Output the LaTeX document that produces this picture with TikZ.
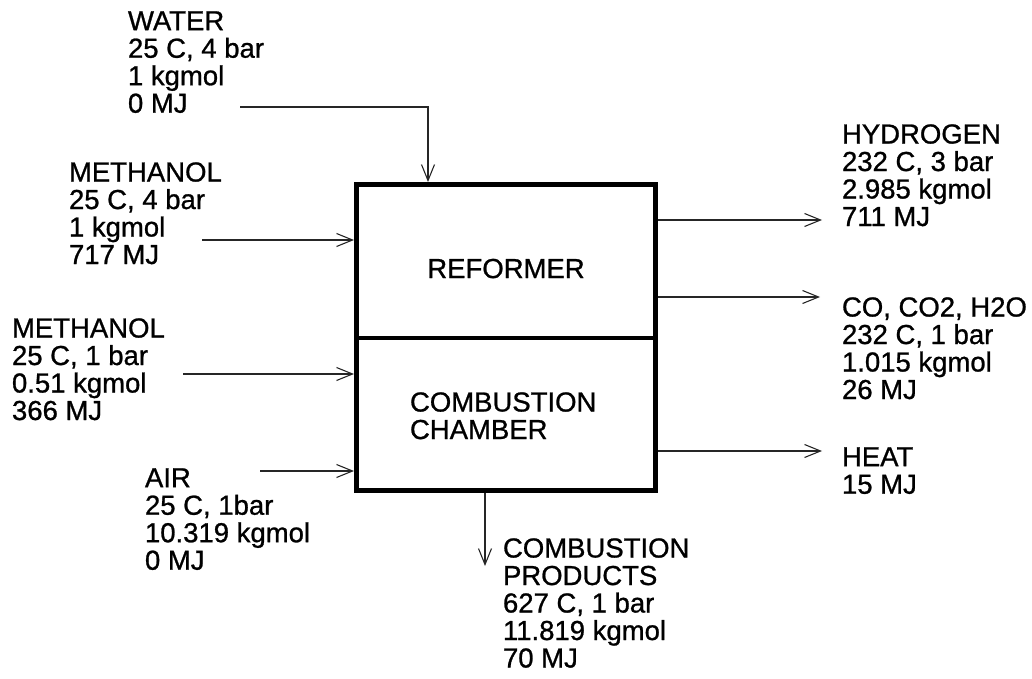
\documentclass[tikz,border=0pt]{standalone}
\usepackage{fontspec}
\setmainfont{Liberation Sans}[FakeBold=0.9]
\usetikzlibrary{arrows.meta}
\tikzset{
  lbl/.style={anchor=north west, inner sep=0pt, outer sep=0pt, align=left,
    font=\fontsize{27.5}{27.5}\selectfont},
  unit/.style={draw=black, line width=4.5pt, inner sep=0pt, fill=none},
  arr/.style={draw=black!85, line width=1.1pt, -{Straight Barb[length=16pt,width=13pt]}},
}
\begin{document}
\begin{tikzpicture}[x=1pt, y=-1pt]
\useasboundingbox (0,0) rectangle (1032,679);
% unit
\node[unit, minimum width=299pt, minimum height=153.5pt, anchor=north west] (reformer) at (354,182) {};
\node[unit, minimum width=299pt, minimum height=152.5pt, anchor=north west] (chamber) at (354,335.5) {};
\node[lbl, anchor=base] (reflbl) at (506,278) {REFORMER};
\node[lbl] (chlbl) at (410,392.3) {COMBUSTION\\CHAMBER};
% stream labels
\node[lbl] (water) at (128,11.3) {WATER\\25 C, 4 bar\\1 kgmol\\0 MJ};
\node[lbl] (meth1) at (69,162.3) {METHANOL\\25 C, 4 bar\\1 kgmol\\717 MJ};
\node[lbl] (meth2) at (12,318.3) {METHANOL\\25 C, 1 bar\\0.51 kgmol\\366 MJ};
\node[lbl] (air) at (145,468.3) {AIR\\25 C, 1bar\\10.319 kgmol\\0 MJ};
\node[lbl] (hyd) at (842,124.3) {HYDROGEN\\232 C, 3 bar\\2.985 kgmol\\711 MJ};
\node[lbl] (co) at (842,297.3) {CO, CO2, H2O\\232 C, 1 bar\\1.015 kgmol\\26 MJ};
\node[lbl] (heat) at (842,447.3) {HEAT\\15 MJ};
\node[lbl] (prod) at (503,538.3) {COMBUSTION\\PRODUCTS\\627 C, 1 bar\\11.819 kgmol\\70 MJ};
% connector ends
\coordinate (ws) at (240,107);
\coordinate (wc) at (428,107);
\coordinate (m1s) at (202,240);
\coordinate (m2s) at (183,374);
\coordinate (as) at (260,471);
\coordinate (ht) at (822,220);
\coordinate (ct) at (820,297);
\coordinate (qt) at (822,451);
\coordinate (pt) at (485,566);
% connectors
\draw[arr] (ws) -- (wc) -- (wc |- reformer.north);
\draw[arr] (m1s) -- (reformer.west |- m1s);
\draw[arr] (m2s) -- (chamber.west |- m2s);
\draw[arr] (as) -- (chamber.west |- as);
\draw[arr] (reformer.east |- ht) -- (ht);
\draw[arr] (reformer.east |- ct) -- (ct);
\draw[arr] (chamber.east |- qt) -- (qt);
\draw[arr] (pt |- chamber.south) -- (pt);
\end{tikzpicture}
\end{document}
